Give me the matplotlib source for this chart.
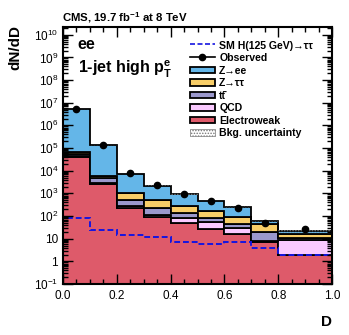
import numpy as np
import matplotlib
matplotlib.use("Agg")
import matplotlib.pyplot as plt
from matplotlib.lines import Line2D
from matplotlib.patches import Patch, Rectangle
from matplotlib.legend_handler import HandlerPatch
from matplotlib.ticker import FuncFormatter, LogLocator, MultipleLocator, NullFormatter

plt.rcParams['font.family'] = ['Liberation Sans', 'DejaVu Sans']
plt.rcParams['mathtext.fontset'] = 'custom'
plt.rcParams['mathtext.rm'] = 'Liberation Sans'
plt.rcParams['mathtext.it'] = 'Liberation Sans:italic'
plt.rcParams['mathtext.bf'] = 'Liberation Sans:bold'
plt.rcParams['hatch.linewidth'] = 0.7

# ---- data ----
edges = [0.0, 0.1, 0.2, 0.3, 0.4, 0.5, 0.6, 0.7, 0.8, 1.0]
electroweak = [4.0e4, 2.6e3, 220, 90, 49, 27, 16, 7.4, 1.9]
qcd = [5e3, 300, 50, 20, 36, 27, 13, 0.6, 7.1]
ttbar = [1e4, 1.9e3, 250, 110, 55, 28, 15, 11, 2]
ztautau = [1.5e4, 1.2e3, 480, 300, 140, 88, 46, 25, 5]
zee = [5.13e6, 1.24e5, 6.5e3, 1.68e3, 650, 270, 170, 18, 5]
observed = [5.5e6, 1.3e5, 8.0e3, 2.4e3, 950, 460, 230, 50, 26]
observed_err = [2.3e3, 360, 90, 49, 31, 21, 15, 11, 5]
signal = [85, 25, 15, 12, 7.4, 5.7, 6.8, 3.8, 2.0]
bkg_unc_frac = [0.05, 0.06, 0.07, 0.08, 0.08, 0.09, 0.1, 0.12, 0.15]

names = ['Electroweak', 'QCD', 'tt\u0304', 'Z→ττ', 'Z→ee']
colors = ['#DE5A6A', '#FACAFF', '#9B98CC', '#F8CE68', '#64B6E8']
layers = [electroweak, qcd, ttbar, ztautau, zee]

ymin, ymax = 0.1, 2.2e10

fig = plt.figure(figsize=(3.49, 3.35), dpi=100)
ax = fig.add_axes([63/349, 1-284/335, (332-63)/349, (284-27)/335])

edges_a = np.array(edges)
base = np.full(len(edges) - 1, ymin)
first = True
for vals, col in zip(layers, colors):
    top = np.array(vals, dtype=float) if first else base + np.array(vals)
    first = False
    ax.stairs(top, edges_a, baseline=base, fill=True, facecolor=col,
              edgecolor='black', linewidth=1.3)
    base = top
total = base

# background uncertainty band
unc = total * np.array(bkg_unc_frac)
ax.bar(edges_a[:-1], 2 * unc, bottom=total - unc, width=np.diff(edges_a), align='edge',
       fill=False, hatch='......', edgecolor='#777777', linewidth=0)

# signal
ax.stairs(signal, edges_a, baseline=ymin, fill=False, edgecolor='#1515E0',
          linestyle=(0, (3, 1.5)), linewidth=1.4)

# observed
centers = 0.5 * (edges_a[:-1] + edges_a[1:])
ax.errorbar(centers, observed, yerr=observed_err, fmt='o', color='black',
            markersize=4.5, elinewidth=1.2, capsize=0)

ax.set_yscale('log')
ax.set_xlim(0, 1)
ax.set_ylim(ymin, ymax)

def yfmt(v, pos):
    e = int(round(np.log10(v)))
    if e == 0:
        return '1'
    if e == 1:
        return '10'
    return r'$10^{%d}$' % e

ax.yaxis.set_major_locator(LogLocator(base=10, numticks=20))
ax.yaxis.set_major_formatter(FuncFormatter(yfmt))
ax.yaxis.set_minor_locator(LogLocator(base=10, subs=np.arange(2, 10), numticks=20))
ax.yaxis.set_minor_formatter(NullFormatter())
ax.xaxis.set_major_locator(MultipleLocator(0.2))
ax.xaxis.set_minor_locator(MultipleLocator(0.05))
ax.xaxis.set_major_formatter(FuncFormatter(lambda v, p: '%.1f' % v))

ax.tick_params(which='both', direction='in', top=True, right=True, labelsize=8.5, width=1.0)
ax.tick_params(which='major', length=7)
ax.tick_params(which='minor', length=3.5)
ax.tick_params(axis='x', pad=4)
for s in ax.spines.values():
    s.set_linewidth(1.5)

fig.text(15/349, 1-48/335, 'dN/dD', rotation=90, fontsize=11, fontweight='bold',
         ha='center', va='center')
fig.text(326/349, 1-322/335, 'D', fontsize=11, fontweight='bold', ha='center', va='center')
fig.text(62/349, 1-18/335, r'CMS, 19.7 fb$^{\mathbf{-1}}$ at 8 TeV', fontsize=8.2,
         fontweight='bold', ha='left', va='center')
ax.text(0.055, 0.93, 'ee', transform=ax.transAxes, fontsize=11.5, fontweight='bold',
        ha='left', va='center')
ax.text(0.055, 0.835, r'1-jet high p$_{\mathbf{T}}^{\mathbf{e}}$', transform=ax.transAxes,
        fontsize=11.5, fontweight='bold', ha='left', va='center')


def small_box(legend, orig_handle, xdescent, ydescent, width, height, fontsize):
    frac = 0.62
    return Rectangle((-xdescent, -ydescent + height * (1 - frac) / 2), width, height * frac)


handles = [
    Line2D([], [], color='#1515E0', linestyle=(0, (3, 1.5)), linewidth=1.2),
    Line2D([], [], color='black', marker='o', markersize=4.5, linewidth=1.2),
]
labels = ['SM H(125 GeV)→ττ', 'Observed']
for col, nm in zip(colors[::-1], names[::-1]):
    handles.append(Patch(facecolor=col, edgecolor='black', linewidth=1.3))
    labels.append(nm)
handles.append(Patch(facecolor='white', edgecolor='#777777', hatch='......', linewidth=0.5))
labels.append('Bkg. uncertainty')

fs = 7.6
leg = ax.legend(handles, labels, loc='upper left', bbox_to_anchor=(0.455, 0.967),
                frameon=False, handlelength=2.4, handleheight=1.18,
                labelspacing=0.15, handletextpad=0.4, borderaxespad=0,
                handler_map={Patch: HandlerPatch(patch_func=small_box)},
                prop={'weight': 'bold', 'size': fs})

fig.savefig('out.png', dpi=100)
